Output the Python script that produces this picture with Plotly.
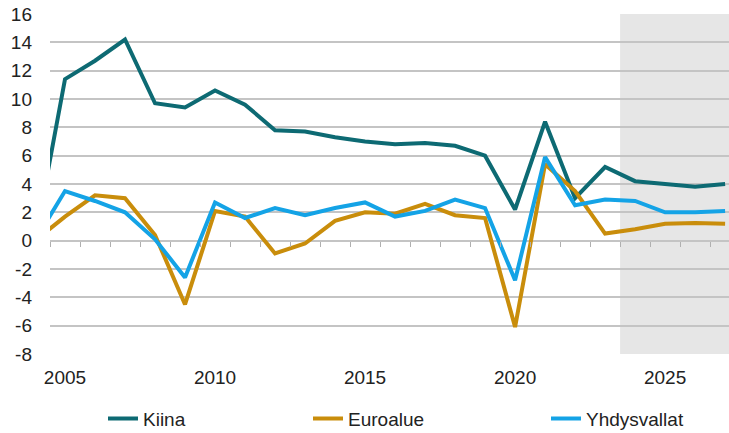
import plotly.graph_objects as go

years = list(range(2004, 2028))
# 2004 has no value in the source chart; the line falls in from zero at the left edge
kiina = [0, 11.4, 12.7, 14.2, 9.7, 9.4, 10.6, 9.6, 7.8, 7.7, 7.3, 7.0, 6.8, 6.9, 6.7, 6.0,
         2.2, 8.4, 3.0, 5.2, 4.2, 4.0, 3.8, 4.0]
euroalue = [0, 1.7, 3.2, 3.0, 0.4, -4.5, 2.1, 1.7, -0.9, -0.2, 1.4, 2.0, 1.9, 2.6, 1.8, 1.6,
            -6.1, 5.4, 3.5, 0.5, 0.8, 1.2, 1.25, 1.2]
yhdysvallat = [0, 3.5, 2.8, 2.0, 0.1, -2.6, 2.7, 1.6, 2.3, 1.8, 2.3, 2.7, 1.7, 2.1, 2.9, 2.3,
               -2.8, 5.9, 2.5, 2.9, 2.8, 2.0, 2.0, 2.1]
ennuste_alku = 2023.5
y_ticks = list(range(-8, 18, 2))
y_labels = [str(v) for v in y_ticks]  # plain hyphen, as in the original
x_ticks = [2005, 2010, 2015, 2020, 2025]

font = "Liberation Sans, Arial, sans-serif"
fig = go.Figure()

series = [("Kiina", kiina, "#0d6a73", "legend"),
          ("Euroalue", euroalue, "#c98d0b", "legend2"),
          ("Yhdysvallat", yhdysvallat, "#14a3e6", "legend3")]
for name, vals, col, leg in series:
    fig.add_trace(go.Scatter(x=years, y=vals, name=name, mode="lines",
                             line=dict(color=col, width=4), legend=leg))

# tick marks along the zero line
fig.add_trace(go.Scatter(x=[years[0]], y=[None], xaxis="x2", showlegend=False, hoverinfo="skip"))

fig.add_shape(type="rect", xref="x", yref="paper", x0=ennuste_alku, x1=2028,
              y0=0, y1=1, fillcolor="#e6e6e6", line_width=0, layer="below")

leg_common = dict(orientation="h", yanchor="middle", y=-0.19, xanchor="left",
                  font=dict(family=font, size=19, color="#222"), bgcolor="rgba(0,0,0,0)",
                  itemwidth=30)
fig.update_layout(
    width=729, height=433,
    margin=dict(l=50, r=0, t=14, b=79, autoexpand=False),
    plot_bgcolor="white", paper_bgcolor="white",
    font=dict(family=font, size=19, color="#222"),
    xaxis=dict(range=[2004.5, 2027.13], tickvals=x_ticks, showgrid=False, zeroline=False,
               ticks="", ticklabelstandoff=10, showline=False),
    xaxis2=dict(overlaying="x", anchor="free", position=1/3, side="bottom",
                range=[2004.5, 2027.13], tickvals=[y + 0.5 for y in years],
                ticks="outside", ticklen=5, tickcolor="#b0b0b0", tickwidth=1,
                showticklabels=False, showgrid=False, zeroline=False, showline=False),
    yaxis=dict(range=[-8, 16], tickvals=y_ticks, ticktext=y_labels, showgrid=True,
               gridcolor="#c4c4c4", gridwidth=1.5, zeroline=False, ticks="",
               ticklabelstandoff=17),
    showlegend=True,
    legend=dict(x=(103 - 50) / 679, **leg_common),
    legend2=dict(x=(308 - 50) / 679, **leg_common),
    legend3=dict(x=(546 - 50) / 679, **leg_common),
)

fig.write_html("out.html", config={"displayModeBar": False},
               post_script="document.body.style.margin='0';")
